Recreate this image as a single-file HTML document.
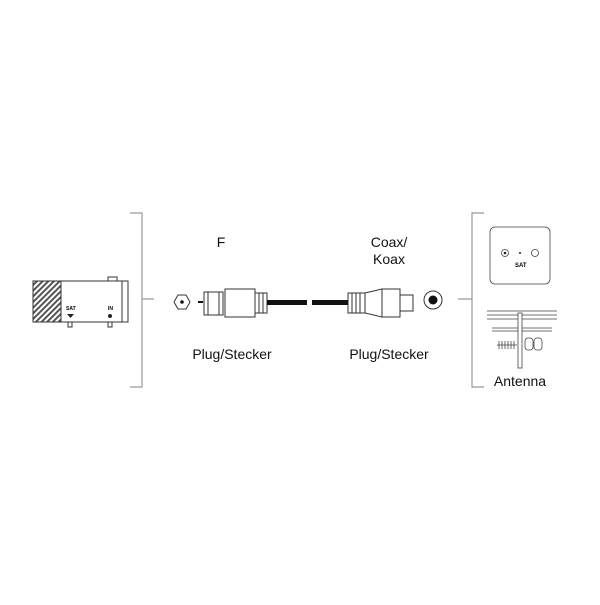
<!DOCTYPE html>
<html><head><style>body{margin:0;background:#fff}</style></head><body>
<svg width="600" height="600" viewBox="0 0 600 600" xmlns="http://www.w3.org/2000/svg" font-family="Liberation Sans, sans-serif">
<defs><pattern id="h" width="4" height="4" patternUnits="userSpaceOnUse" patternTransform="rotate(45)"><rect width="2" height="4" fill="#555"/></pattern></defs>
<g fill="none" stroke="#999" stroke-width="1.2">
<path d="M130 213H142V387H130M142 299H154"/>
<path d="M484 213H472V387H484M472 299H458"/>
</g>
<g stroke="#333" stroke-width="1" fill="#fff">
<rect x="108" y="277" width="9" height="5"/>
<rect x="33" y="281" width="95" height="41"/>
<rect x="33" y="281" width="28" height="41" fill="url(#h)"/>
<line x1="122" y1="281" x2="122" y2="322"/>
<rect x="68" y="322" width="4" height="5"/><rect x="108" y="322" width="4" height="5"/>
</g>
<text x="66" y="310" font-size="5" font-weight="bold">SAT</text>
<text x="108" y="310" font-size="5" font-weight="bold">IN</text>
<path d="M67 314h7l-3.5 4z" fill="#222"/><circle cx="110" cy="316" r="2" fill="#222"/>
<g stroke="#333" stroke-width="1" fill="#fff">
<polygon points="190,302 186,309 178,309 174,302 178,295 186,295"/>
<rect x="204" y="292" width="19" height="23"/>
<line x1="208" y1="292" x2="208" y2="315"/><line x1="219" y1="292" x2="219" y2="315"/>
<rect x="225" y="289" width="30" height="28"/>
<rect x="255" y="293" width="12" height="20"/>
<line x1="259" y1="293" x2="259" y2="313"/><line x1="263" y1="293" x2="263" y2="313"/>
<rect x="348" y="293" width="17" height="20"/>
<line x1="352" y1="293" x2="352" y2="313"/><line x1="356" y1="293" x2="356" y2="313"/><line x1="360" y1="293" x2="360" y2="313"/>
<path d="M365 293L382 289V317L365 313Z"/>
<rect x="382" y="289" width="18" height="28"/>
<rect x="400" y="295" width="13" height="16"/>
<circle cx="433" cy="300" r="9"/>
</g>
<circle cx="182" cy="302" r="1.8" fill="#111"/>
<rect x="198" y="301" width="5" height="2" fill="#111"/>
<rect x="267" y="300" width="40" height="5" fill="#111"/>
<rect x="312" y="300" width="36" height="5" fill="#111"/>
<circle cx="433" cy="300" r="4.5" fill="#111"/>
<g stroke="#444" stroke-width="0.8" fill="none">
<rect x="490" y="227" width="60" height="57" rx="5"/>
<circle cx="505" cy="253" r="3.5"/><circle cx="535" cy="253" r="3.5"/>
<path d="M487 311H557M487 315H557M487 319H557M492 328H552M492 331H552"/>
<rect x="518" y="313" width="4" height="55" fill="#fff"/>
<path d="M497 345H517M499 341V349M502 341V349M505 341V349M508 341V349M511 341V349M514 341V349"/>
<rect x="525" y="338" width="8" height="12" rx="3"/><rect x="534" y="338" width="8" height="12" rx="3"/>
</g>
<circle cx="505" cy="253" r="1.3" fill="#222"/><circle cx="520" cy="253" r="1" fill="#222"/>
<text x="515" y="267" font-size="6" font-weight="bold">SAT</text>
<g font-size="14" fill="#111" text-anchor="middle">
<text x="221" y="247">F</text>
<text x="389" y="247">Coax/</text>
<text x="389" y="264">Koax</text>
<text x="232" y="359">Plug/Stecker</text>
<text x="389" y="359">Plug/Stecker</text>
<text x="520" y="386">Antenna</text>
</g>
</svg>
</body></html>
